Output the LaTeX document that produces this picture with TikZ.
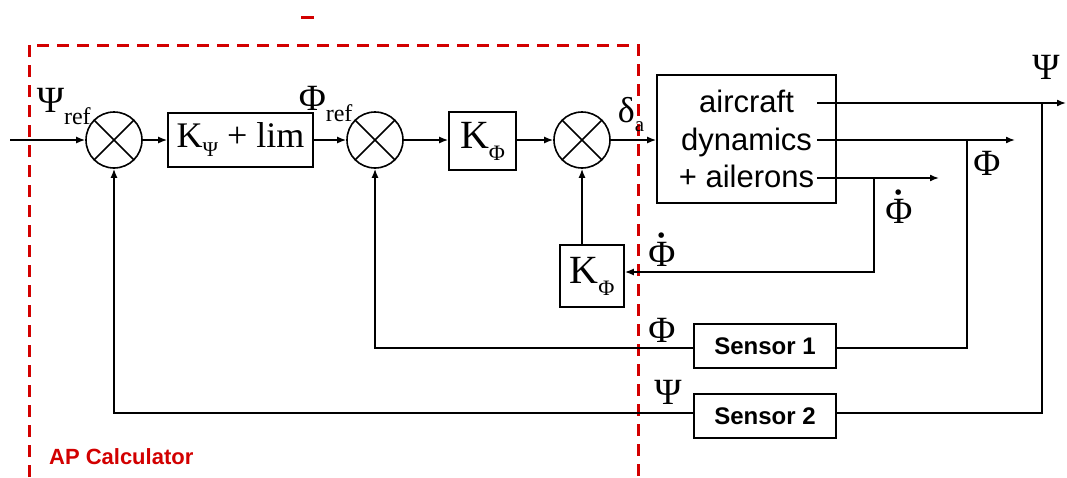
\documentclass[tikz,border=0pt]{standalone}
\usepackage{fontspec}
\setmainfont{Liberation Serif}
\newfontfamily\arialf{Liberation Sans}
\usetikzlibrary{arrows.meta,calc}
\newcommand\phidotsym{\ooalign{Φ\cr\hidewidth\raisebox{0.2em}{\bfseries ˙}\hidewidth\cr}}
\begin{document}
\begin{tikzpicture}[x=1pt,y=-1pt,
  line width=1.6pt,
  arr/.style={-{Latex[length=9pt,width=7pt]}},
  sumnode/.style={circle,draw,minimum size=56pt,inner sep=0pt},
  blk/.style={draw,rectangle,inner sep=0pt},
  greek/.style={font=\fontsize{37}{39}\selectfont},
  senslab/.style={font=\arialf\bfseries\fontsize{24}{26}\selectfont},
  apred/.style={draw={rgb,255:red,210;green,0;blue,0},line width=3pt,dash pattern=on 12pt off 8pt}
]
\useasboundingbox (0,0) rectangle (1067,477);
% AP calculator dashed box
\draw[apred] (29,477) -- (29,45) -- (638,45) -- (638,477);
\draw[draw={rgb,255:red,210;green,0;blue,0},line width=3pt] (301,17) -- (314,17);
\node[anchor=west,text={rgb,255:red,210;green,0;blue,0},font=\arialf\bfseries\fontsize{22}{24}\selectfont] (aplab) at (45,457) {AP Calculator};

% nodes
\node[sumnode] (s1) at (114,140) {};
\node[blk,minimum width=145pt,minimum height=54pt,font=\fontsize{36}{38}\selectfont] (kpsi) at (240.5,140) {K\raisebox{-0.25em}{\fontsize{21}{23}\selectfont Ψ} + lim};
\node[sumnode] (s2) at (375,140) {};
\node[blk,minimum width=67pt,minimum height=58pt,font=\fontsize{40}{42}\selectfont] (kphi) at (482.5,141) {K\raisebox{-0.3em}{\fontsize{22}{24}\selectfont Φ}};
\node[sumnode] (s3) at (582,140) {};
\node[blk,minimum width=179pt,minimum height=128pt,align=center,font=\arialf\fontsize{31}{37.5}\selectfont] (ac) at (746.5,139) {aircraft\\dynamics\\+ ailerons};
\node[blk,minimum width=64pt,minimum height=62pt,font=\fontsize{40}{42}\selectfont] (kfb) at (592,276) {K\raisebox{-0.3em}{\fontsize{22}{24}\selectfont Φ}};
\node[blk,minimum width=142pt,minimum height=44pt,senslab] (sen1) at (765,346) {Sensor 1};
\node[blk,minimum width=142pt,minimum height=44pt,senslab] (sen2) at (765,416) {Sensor 2};

% crosses in summing junctions
\foreach \s in {s1,s2,s3}{
  \draw (\s.45) -- (\s.225);
  \draw (\s.135) -- (\s.315);
}

% coordinates
\coordinate (in) at (10,140);
\coordinate (o1) at (817,103);
\coordinate (o2) at (817,140);
\coordinate (o3) at (817,178);
\coordinate (e1) at (1066,103);
\coordinate (e2) at (1015,140);
\coordinate (e3) at (939,178);
\coordinate (j1) at (1042,103);
\coordinate (j2) at (967,140);
\coordinate (j3) at (874,178);

% forward path
\draw[arr] (in) -- (s1.west);
\draw[arr] (s1.east) -- (kpsi.west);
\draw[arr] (kpsi.east) -- (s2.west);
\draw[arr] (s2.east) -- (kphi.west |- s2);
\draw[arr] (kphi.east |- s3) -- (s3.west);
\draw[arr] (s3.east) -- (ac.west |- s3);

% outputs
\draw[arr] (o1) -- (e1);
\draw[arr] (o2) -- (e2);
\draw[arr] (o3) -- (e3);

% rate feedback
\draw[arr] (j3) |- ($(kfb.east)+(0,-4)$);
\draw[arr] (kfb.north -| s3) -- (s3.south);

% roll feedback
\draw (j2) |- (sen1.east |- 0,348);
\draw[arr] (sen1.west |- 0,348) -| (s2.south);

% heading feedback
\draw (j1) |- (sen2.east |- 0,413);
\draw[arr] (sen2.west |- 0,413) -| (s1.south);

% labels
\node[greek,anchor=base west,inner sep=0pt] (lpsiref) at (36,112) {Ψ\raisebox{-0.35em}{\fontsize{24}{26}\selectfont ref}};
\node[greek,anchor=base west,inner sep=0pt] (lphiref) at (298,110) {Φ\raisebox{-0.3em}{\fontsize{24}{26}\selectfont ref}};
\node[anchor=base west,inner sep=0pt,font=\fontsize{36}{38}\selectfont] (ldelta) at (617,122) {δ\raisebox{-0.25em}{\fontsize{21}{23}\selectfont a}};
\node[greek,anchor=base,inner sep=0pt] (lpsi1) at (1046,79) {Ψ};
\node[greek,anchor=base,inner sep=0pt] (lphi1) at (987,175) {Φ};
\node[greek,anchor=base,inner sep=0pt] (lphid1) at (899,223) {\phidotsym};
\node[greek,anchor=base,inner sep=0pt] (lphid2) at (662,266) {\phidotsym};
\node[greek,anchor=base,inner sep=0pt] (lphi2) at (662,342) {Φ};
\node[greek,anchor=base,inner sep=0pt] (lpsi2) at (668,404) {Ψ};
\end{tikzpicture}
\end{document}
